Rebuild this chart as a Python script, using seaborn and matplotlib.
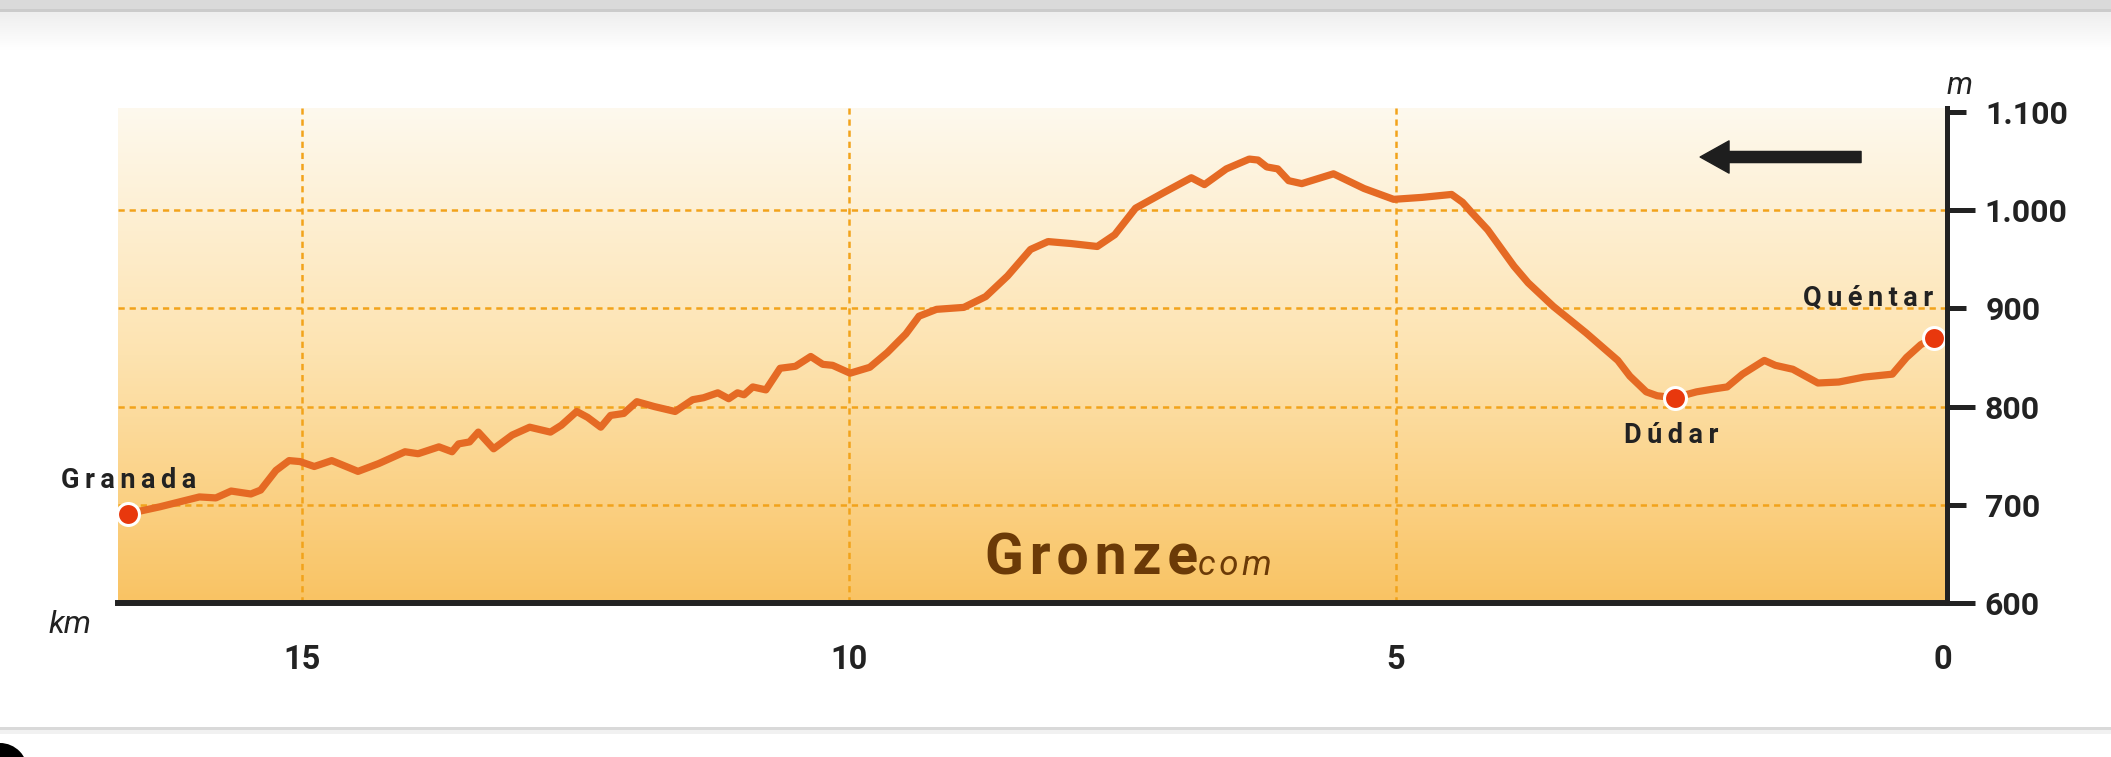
import numpy as np
import matplotlib
matplotlib.use('Agg')
import matplotlib.pyplot as plt
import seaborn as sns
from matplotlib.ticker import FixedLocator, FuncFormatter, NullLocator
from matplotlib.colors import LinearSegmentedColormap
from matplotlib.patches import Rectangle, Ellipse

# Elevation profile (km counted back from Quéntar)
km = [16.59, 16.30, 15.94, 15.79, 15.65, 15.47, 15.38, 15.24, 15.12, 15.02,
      14.89, 14.73, 14.49, 14.30, 14.06, 13.94, 13.75, 13.63, 13.57, 13.47,
      13.39, 13.25, 13.08, 12.92, 12.73, 12.63, 12.49, 12.39, 12.27, 12.18,
      12.06, 11.94, 11.78, 11.59, 11.43, 11.33, 11.20, 11.10, 11.02, 10.96,
      10.88, 10.76, 10.63, 10.49, 10.35, 10.24, 10.15, 9.99, 9.81, 9.65,
      9.48, 9.36, 9.20, 8.95, 8.75, 8.55, 8.34, 8.18, 7.97, 7.73,
      7.57, 7.38, 7.12, 6.87, 6.75, 6.55, 6.34, 6.26, 6.18, 6.08,
      5.98, 5.86, 5.57, 5.29, 5.02, 4.76, 4.49, 4.39, 4.31, 4.16,
      3.92, 3.79, 3.56, 3.26, 2.97, 2.86, 2.71, 2.61, 2.45, 2.25,
      2.09, 1.97, 1.83, 1.63, 1.53, 1.37, 1.14, 0.95, 0.72, 0.46,
      0.33, 0.20, 0.08]
elev = [691, 698, 708, 707, 714, 711, 715, 735, 745, 744,
        739, 745, 734, 742, 754, 752, 759, 754, 762, 764,
        774, 757, 771, 779, 774, 781, 795, 789, 779, 791,
        793, 805, 800, 795, 807, 809, 814, 808, 814, 812,
        820, 817, 839, 841, 851, 843, 842, 834, 840, 855,
        874, 892, 899, 901, 912, 933, 960, 968, 966, 963,
        975, 1002, 1018, 1033, 1026, 1042, 1052, 1051, 1044, 1042,
        1030, 1027, 1037, 1022, 1011, 1013, 1016, 1008, 998, 980,
        943, 926, 902, 875, 847, 831, 815, 811, 809, 815,
        818, 820, 833, 847, 842, 838, 824, 825, 830, 833,
        850, 863, 870]

towns = ['Granada', 'Dúdar', 'Quéntar']
town_km = [16.59, 2.45, 0.08]
town_elev = [691, 809, 870]

x_ticks = [0, 5, 10, 15]
y_major = [600, 800, 1000]
y_minor = [700, 900, 1100]
grid_y = [700, 800, 900, 1000]
grid_x = [5, 10, 15]

XLIM = (16.68, -0.04)
YLIM = (600, 1104)

sns.set_style('white')
plt.rcParams['font.family'] = ['Roboto', 'DejaVu Sans']
plt.rcParams['font.weight'] = 'bold'
plt.rcParams['lines.scale_dashes'] = False

INK = '#222222'
LINE = '#E56A24'
DOT = '#E8380D'
GRID = '#F2A31B'

fig = plt.figure(figsize=(21.11, 7.57), dpi=100, facecolor='white')

# page chrome of the screenshot (pixel coordinates)
bg = fig.add_axes([0, 0, 1, 1], zorder=-10)
bg.axis('off')
shadow = LinearSegmentedColormap.from_list('sh', ['#eeeeee', '#ffffff'])
bg.imshow(np.linspace(0, 1, 64).reshape(-1, 1), cmap=shadow, aspect='auto',
          extent=(0, 2111, 50, 12))
bg.add_patch(Rectangle((0, 0), 2111, 9, color='#dadada', lw=0))
bg.add_patch(Rectangle((0, 9), 2111, 3, color='#cbcbcb', lw=0))
bg.add_patch(Rectangle((0, 727), 2111, 3, color='#d9d9d9', lw=0))
bg.add_patch(Rectangle((0, 730), 2111, 4, color='#f1f1f1', lw=0))
bg.add_patch(Ellipse((0, 772), 56, 58, color='black', lw=0))
bg.set_xlim(0, 2111)
bg.set_ylim(757, 0)

ax = fig.add_axes([0.05613, 0.20343, 0.86618, 0.65390])
ax.patch.set_visible(False)

# background gradient
warm = LinearSegmentedColormap.from_list('warm', ['#F9C363', '#FDE3B0', '#FEF9EE'])
ax.imshow(np.linspace(0, 1, 256).reshape(-1, 1), cmap=warm, origin='lower',
          extent=(XLIM[0], XLIM[1], YLIM[0], YLIM[1]), aspect='auto', zorder=0)

for v in grid_y:
    ax.axhline(v, color=GRID, lw=1.8, ls=(0, (4.5, 3.5)), zorder=1)
for v in grid_x:
    ax.axvline(v, color=GRID, lw=1.8, ls=(0, (4.5, 3.5)), zorder=1)

sns.lineplot(x=km, y=elev, ax=ax, color=LINE, lw=5.2, zorder=3,
             solid_joinstyle='round', solid_capstyle='round')
sns.scatterplot(x=town_km, y=town_elev, ax=ax, s=250, color=DOT,
                edgecolor='white', linewidth=2.2, zorder=5, clip_on=False)

ax.set_xlim(*XLIM)
ax.set_ylim(*YLIM)

# town labels (letter-spaced)
def spaced(s, gap='\u2009'):
    return gap.join(s)

ax.text(17.21, 717, spaced('Granada'), fontsize=19.5, color=INK,
        ha='left', va='baseline', clip_on=False)
ax.text(2.48, 763, spaced('Dúdar'), fontsize=19.5, color=INK,
        ha='center', va='baseline')
ax.text(0.09, 903, spaced('Quéntar'), fontsize=19.5, color=INK,
        ha='right', va='baseline')

# watermark
ax.text(0.474, 0.0566, spaced('Gronze', '\u200a'), transform=ax.transAxes,
        fontsize=41, color='#6B3A07', ha='left', va='baseline', zorder=2)
ax.text(0.5905, 0.0566, spaced('com', '\u200a'), transform=ax.transAxes,
        fontsize=25, color='#6B3A07', fontweight='normal', style='italic',
        ha='left', va='baseline', zorder=2)

# direction arrow
ax.annotate('', xy=(0.865, 0.901), xytext=(0.953, 0.901), xycoords='axes fraction',
            arrowprops=dict(arrowstyle='simple,head_length=1.3,head_width=1.45,tail_width=0.5',
                            mutation_scale=16, color='#1e1e1e', shrinkA=0, shrinkB=0))

# unit labels
ax.text(-0.0265, -0.0606, 'km', transform=ax.transAxes, fontsize=23,
        fontweight='normal', style='italic', color=INK, ha='center', va='baseline')
ax.text(1.0, 1.028, 'm', transform=ax.transAxes, fontsize=22,
        fontweight='normal', style='italic', color=INK, ha='left', va='baseline')

# axes styling
for side in ['left', 'top']:
    ax.spines[side].set_visible(False)
ax.spines['bottom'].set_linewidth(4.3)
ax.spines['right'].set_linewidth(3.6)
for side in ['bottom', 'right']:
    ax.spines[side].set_color(INK)
    ax.spines[side].set_capstyle('projecting')
    ax.spines[side].set_zorder(6)

fmt = FuncFormatter(lambda v, p: f'{int(v):,}'.replace(',', '.'))
ax.xaxis.set_major_locator(FixedLocator(x_ticks))
ax.xaxis.set_minor_locator(NullLocator())
ax.yaxis.set_major_locator(FixedLocator(y_major))
ax.yaxis.set_minor_locator(FixedLocator(y_minor))
ax.yaxis.set_major_formatter(fmt)
ax.yaxis.set_minor_formatter(fmt)
ax.yaxis.tick_right()

ax.tick_params(axis='x', which='major', direction='out', length=13.7, width=3.6,
               color=INK, pad=16, labelsize=23.5, labelcolor=INK)
ax.tick_params(axis='y', which='major', direction='out', length=20, width=3.6,
               color=INK, pad=7, labelsize=23, labelcolor=INK,
               right=True, left=False, labelright=True, labelleft=False)
ax.tick_params(axis='y', which='minor', direction='out', length=14, width=3.6,
               color=INK, pad=13.5, labelsize=23, labelcolor=INK,
               right=True, left=False, labelright=True, labelleft=False)
ax.set_xlabel('')
ax.set_ylabel('')

fig.savefig('out.png', dpi=100, facecolor='white')
